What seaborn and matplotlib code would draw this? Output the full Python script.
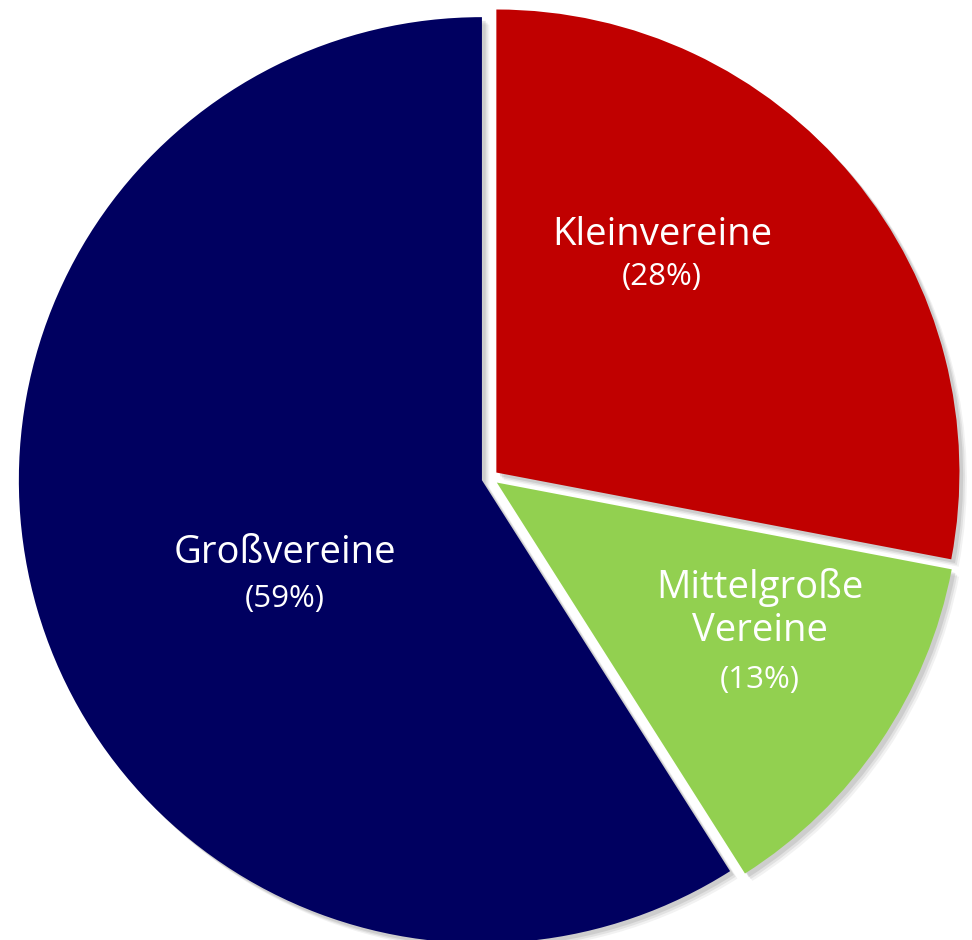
import matplotlib
matplotlib.use("Agg")
import matplotlib.pyplot as plt
import seaborn as sns

categories = ["Kleinvereine", "Mittelgroße\nVereine", "Großvereine"]
shares = [28, 13, 59]
pct_labels = ["(28%)", "(13%)", "(59%)"]
colors = ["#C00000", "#92D050", "#000060"]

sns.set_theme(style="white")
plt.rcParams['font.family'] = ['Open Sans', 'DejaVu Sans']

fig = plt.figure(figsize=(9.72, 9.40), dpi=100)
ax = fig.add_axes([0, 0, 1, 1])

explode = [0.018] * len(shares)

# soft shadow layers
for off, a in [(0.016, 0.10), (0.012, 0.15), (0.008, 0.2)]:
    ax.pie(shares, startangle=90, counterclock=False, explode=explode,
           colors=["#808080"] * 3, center=(off, -off),
           wedgeprops=dict(linewidth=0, alpha=a))

wedges, _ = ax.pie(shares, startangle=90, counterclock=False, explode=explode,
                   colors=colors, wedgeprops=dict(linewidth=0))

ax.set_aspect('auto')
ax.set_xlim(-1.058, 1.041)
ax.set_ylim(-0.998, 1.032)
ax.axis('off')

# label positions (axes fraction)
name_pos = [(662 / 972, 1 - 235 / 940), (760 / 972, 1 - 609 / 940), (285 / 972, 1 - 553 / 940)]
pct_pos = [(662 / 972, 1 - 277 / 940), (760 / 972, 1 - 680 / 940), (285 / 972, 1 - 599 / 940)]
for name, pct, npos, ppos in zip(categories, pct_labels, name_pos, pct_pos):
    ax.text(*npos, name, transform=ax.transAxes, ha='center', va='center',
            color='white', fontsize=27.5, linespacing=1.2)
    ax.text(*ppos, pct, transform=ax.transAxes, ha='center', va='center',
            color='white', fontsize=22.5)

fig.savefig("out.png", dpi=100)
